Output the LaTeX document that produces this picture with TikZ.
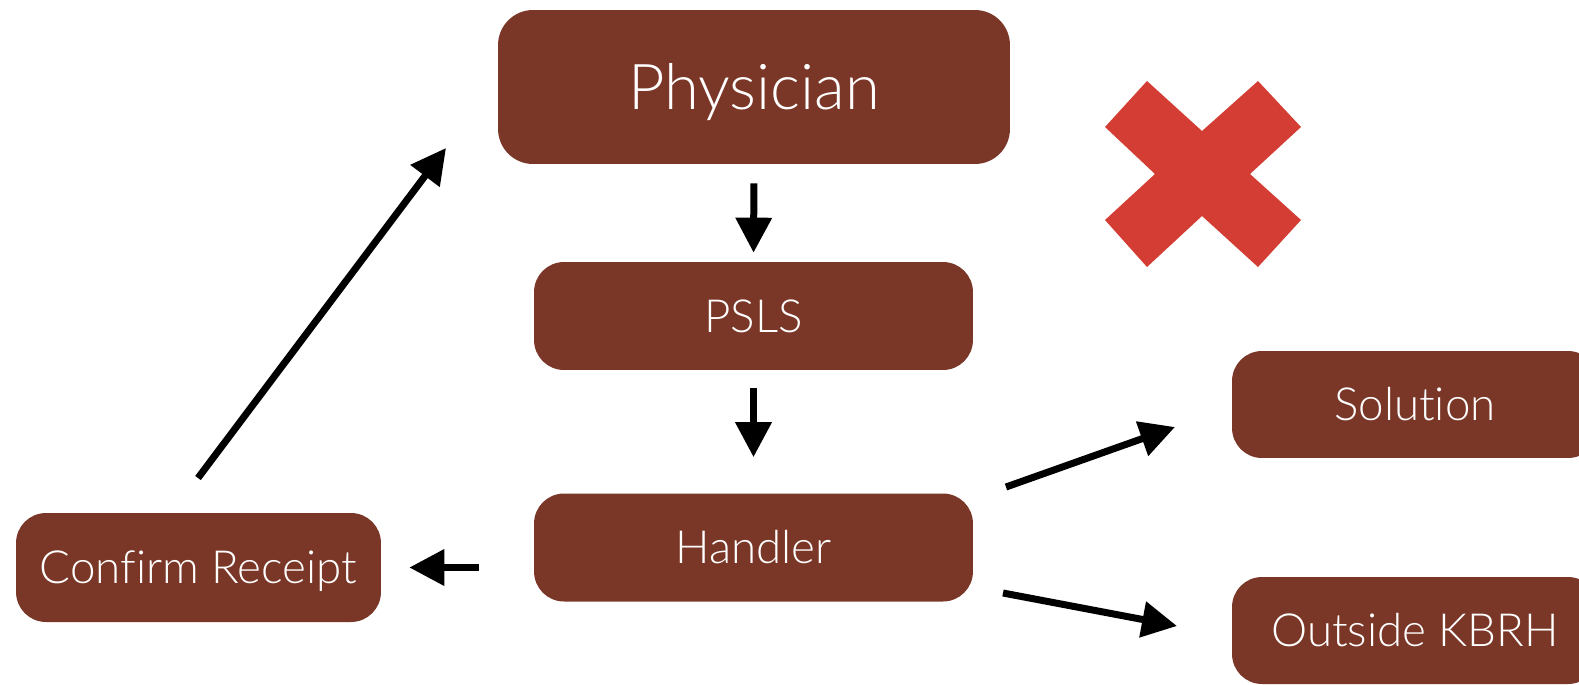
\documentclass[tikz,border=0pt]{standalone}
\usepackage{fontspec}
\setmainfont{Lato Light}[Ligatures=NoCommon]
\usepackage{tikz}
\usetikzlibrary{arrows.meta}

\definecolor{boxbrown}{RGB}{122,55,39}
\definecolor{crossred}{RGB}{211,61,52}

\begin{document}
\begin{tikzpicture}[x=0.02cm, y=-0.02cm,
    box/.style={fill=boxbrown, text=white, rounded corners=0.6cm, inner sep=0pt,
                minimum width=8.78cm, minimum height=2.16cm, text height=18.6pt, text depth=0pt,
                font=\fontsize{26}{30}\selectfont},
    arr/.style={line width=0.14cm, -{Triangle[length=0.7cm, width=0.7cm]}}]
    % Frame
    \clip (0,0) rectangle (1579,684);
    \fill[white] (0,0) rectangle (1579,684);
    % Draw boxes
    \node[box, minimum width=10.24cm, minimum height=3.08cm, rounded corners=0.7cm,
          text height=25.8pt, font=\fontsize{36}{42}\selectfont] (phys) at (754,87) {Physician};
    \node[box] (psls) at (753.5,316) {PSLS};
    \node[box] (hand) at (753.5,547.5) {Handler};
    \node[box, minimum width=7.3cm, minimum height=2.18cm] (conf) at (198.5,567.5) {Confirm Receipt};
    \node[box, minimum width=7.32cm, minimum height=2.14cm] (sol) at (1415,404.5) {Solution};
    \node[box, minimum width=7.32cm, minimum height=2.14cm] (kbrh) at (1415,630.5) {Outside KBRH};
    % Free ends of the arrows
    \coordinate (confTail) at (198,478);
    \coordinate (physTip) at (446,148);
    \coordinate (solTail) at (1006,487);
    \coordinate (solTip) at (1175,427);
    \coordinate (kbrhTail) at (1003,593);
    \coordinate (kbrhTip) at (1177,626);
    % Draw arrows
    \draw[arr, shorten <=0.38cm, shorten >=0.18cm] (phys.south) -- (psls.north);
    \draw[arr, shorten <=0.36cm, shorten >=0.72cm] (psls.south) -- (hand.north);
    \draw[arr, shorten <=1.1cm, shorten >=0.56cm] (hand.west |- conf.east) -- (conf.east);
    \draw[arr] (confTail) -- (physTip);
    \draw[arr] (solTail) -- (solTip);
    \draw[arr] (kbrhTail) -- (kbrhTip);
    % Red cross
    \coordinate (xmark) at (1203,174);
    \fill[crossred, shift={(xmark)}] (-98,-47) -- (-56,-93) -- (-1,-43) -- (55,-93) -- (98,-47)
        -- (47,0) -- (98,46) -- (55,93) -- (-1,42) -- (-56,93) -- (-98,46) -- (-48,0) -- cycle;
\end{tikzpicture}
\end{document}
